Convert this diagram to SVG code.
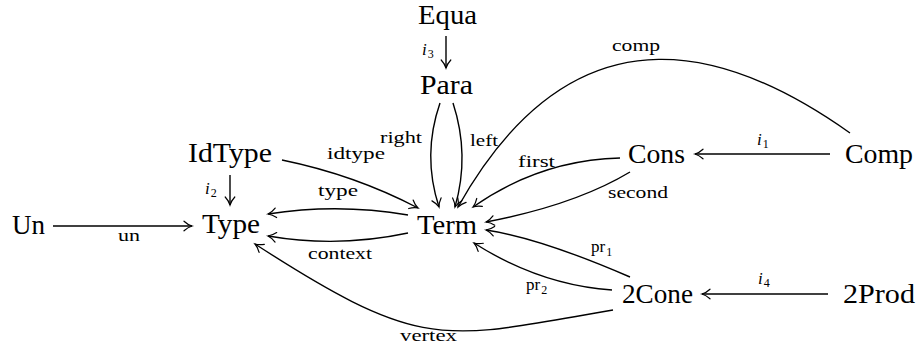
<svg xmlns="http://www.w3.org/2000/svg" width="917" height="350" viewBox="0 0 917 350">
<style>
.n{font-family:"Liberation Serif","Times New Roman",serif;font-size:27px;fill:#000}
.l{font-family:"Liberation Serif","Times New Roman",serif;font-size:17px;fill:#000}
.it{font-style:italic}
.sub{font-size:12px;font-style:normal}
.e{fill:none;stroke:#000;stroke-width:1.4;marker-end:url(#ar)}
</style>
<defs>
<marker id="ar" markerUnits="userSpaceOnUse" markerWidth="14" markerHeight="14" viewBox="-10 -7 12 14" refX="0" refY="0" orient="auto">
<path d="M-8,-4.8 C-5,-2 -2,-0.6 0,0 C-2,0.6 -5,2 -8,4.8" fill="none" stroke="#000" stroke-width="1.2" stroke-linecap="round"/>
</marker>
</defs>
<g id="connectors">
<path class="e" d="M446,36 L446,68"/>
<path class="e" d="M440,103 Q422,155 439,207"/>
<path class="e" d="M453,103 Q470,155 455,207"/>
<path class="e" d="M282,160 Q355,175 418,208"/>
<path class="e" d="M408,215 Q338,203 268,214"/>
<path class="e" d="M408,233 Q338,248 268,236"/>
<path class="e" d="M53,226 L192,226"/>
<path class="e" d="M230,175 L230,205"/>
<path class="e" d="M613,310 C443,339 425,354 255,244"/>
<path class="e" d="M630,277 Q540,238 486,230"/>
<path class="e" d="M612,290 Q540,285 474,243"/>
<path class="e" d="M620,158 Q540,160 473,207"/>
<path class="e" d="M630,172 Q575,205 486,222"/>
<path class="e" d="M850,133 C740,55 580,-10 458,207"/>
<path class="e" d="M830,154 L695,154"/>
<path class="e" d="M828,294 L702,294"/>
</g>
<g id="labels">
<text class="l" x="422" y="55"><tspan class="it">i</tspan><tspan class="sub" dx="1" dy="3">3</tspan></text>
<text class="l" x="380" y="143" textLength="42" lengthAdjust="spacingAndGlyphs">right</text>
<text class="l" x="470" y="146" textLength="28" lengthAdjust="spacingAndGlyphs">left</text>
<text class="l" x="327" y="159" textLength="58" lengthAdjust="spacingAndGlyphs">idtype</text>
<text class="l" x="205" y="194"><tspan class="it">i</tspan><tspan class="sub" dx="1" dy="3">2</tspan></text>
<text class="l" x="318" y="196" textLength="40" lengthAdjust="spacingAndGlyphs">type</text>
<text class="l" x="308" y="259" textLength="64" lengthAdjust="spacingAndGlyphs">context</text>
<text class="l" x="118" y="241" textLength="22" lengthAdjust="spacingAndGlyphs">un</text>
<text class="l" x="612" y="51" textLength="48" lengthAdjust="spacingAndGlyphs">comp</text>
<text class="l" x="757" y="145"><tspan class="it">i</tspan><tspan class="sub" dx="1" dy="3">1</tspan></text>
<text class="l" x="518" y="167" textLength="37" lengthAdjust="spacingAndGlyphs">first</text>
<text class="l" x="608" y="198" textLength="60" lengthAdjust="spacingAndGlyphs">second</text>
<text class="l" x="591" y="252">pr<tspan class="sub" dx="1" dy="4">1</tspan></text>
<text class="l" x="526" y="290">pr<tspan class="sub" dx="1" dy="4">2</tspan></text>
<text class="l" x="758" y="284"><tspan class="it">i</tspan><tspan class="sub" dx="1" dy="3">4</tspan></text>
<text class="l" x="400" y="341" textLength="57" lengthAdjust="spacingAndGlyphs">vertex</text>
</g>
<g id="Equa"><text class="n" x="418" y="24" textLength="59" lengthAdjust="spacingAndGlyphs">Equa</text></g>
<g id="Para"><text class="n" x="420" y="94" textLength="53" lengthAdjust="spacingAndGlyphs">Para</text></g>
<g id="Term"><text class="n" x="417" y="234" textLength="60" lengthAdjust="spacingAndGlyphs">Term</text></g>
<g id="IdType"><text class="n" x="188" y="162" textLength="84" lengthAdjust="spacingAndGlyphs">IdType</text></g>
<g id="Type"><text class="n" x="202" y="233" textLength="58" lengthAdjust="spacingAndGlyphs">Type</text></g>
<g id="Un"><text class="n" x="12" y="234" textLength="33" lengthAdjust="spacingAndGlyphs">Un</text></g>
<g id="Cons"><text class="n" x="628" y="163" textLength="57" lengthAdjust="spacingAndGlyphs">Cons</text></g>
<g id="Comp"><text class="n" x="845" y="163" textLength="68" lengthAdjust="spacingAndGlyphs">Comp</text></g>
<g id="2Cone"><text class="n" x="622" y="303" textLength="71" lengthAdjust="spacingAndGlyphs">2Cone</text></g>
<g id="2Prod"><text class="n" x="843" y="303" textLength="72" lengthAdjust="spacingAndGlyphs">2Prod</text></g>
</svg>
